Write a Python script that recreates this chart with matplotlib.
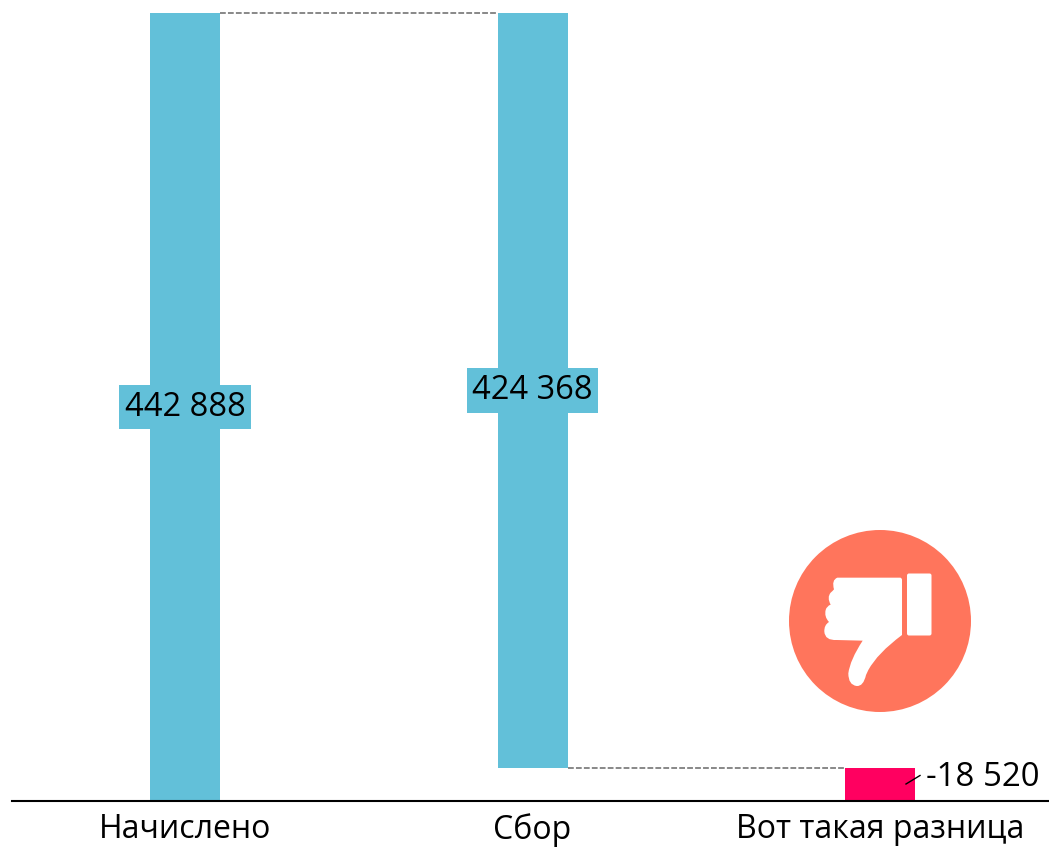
import matplotlib
matplotlib.use('Agg')
import matplotlib.pyplot as plt
from matplotlib.patches import Circle, FancyBboxPatch, PathPatch
from matplotlib.path import Path

categories = ['Начислено', 'Сбор', 'Вот такая разница']
bar_bottoms = [0, 18520, 0]
bar_heights = [442888, 424368, 18520]
bar_labels = ['442 888', '424 368', '-18 520']

BLUE = '#62C0D9'
PINK = '#FF0060'
CORAL = '#FF755C'
W, H = 1049, 850

plt.rcParams['font.family'] = ['Open Sans', 'DejaVu Sans']
fig = plt.figure(figsize=(W / 100, H / 100), dpi=100, facecolor='white')

# оси: базовая линия на y=801, верх столбца на y=13
ax = fig.add_axes([12 / W, (H - 801) / H, (W - 12) / W, 801 / H])
ax.set_xlim((12 - 185) / 347.5, (W - 185) / 347.5)
ax.set_ylim(0, 801 / 788 * bar_heights[0])
width = 70 / 347.5

colors = [BLUE, BLUE, PINK]
ax.bar(range(3), bar_heights, bottom=bar_bottoms, width=width, color=colors, linewidth=0)

# пунктирные соединения
ax.plot([width / 2, 1 - width / 2], [bar_heights[0]] * 2, color='#7f7f7f', lw=1.3, ls=(0, (3.2, 1.2)))
ax.plot([1 + width / 2, 2 - width / 2], [bar_heights[2]] * 2, color='#7f7f7f', lw=1.3, ls=(0, (3.2, 1.2)))

for i in range(2):
    ax.text(i, bar_bottoms[i] + bar_heights[i] / 2, bar_labels[i], ha='center', va='center',
            fontsize=23.5, color='black',
            bbox=dict(facecolor=BLUE, edgecolor='none', boxstyle='square,pad=0.17'))

ax.set_xticks(range(3))
ax.set_xticklabels(categories, fontsize=23, color='black')
ax.tick_params(axis='x', length=0, pad=9)
ax.set_yticks([])
for s in ['top', 'left', 'right']:
    ax.spines[s].set_visible(False)
ax.spines['bottom'].set_linewidth(1.5)
ax.spines['bottom'].set_color('black')

# слой в пикселях: подпись -18 520, выноска и значок
over = fig.add_axes([0, 0, 1, 1])
over.set_xlim(0, W)
over.set_ylim(H, 0)
over.axis('off')
over.patch.set_alpha(0)

over.text(982.5, 777, bar_labels[2], ha='center', va='center', fontsize=23.8, color='black')
over.plot([906, 920], [784, 775.5], color='black', lw=1.0)

over.add_patch(Circle((880, 621), 91, facecolor=CORAL, edgecolor='none'))
over.add_patch(FancyBboxPatch((907, 573.5), 24.5, 62, boxstyle='round,pad=0,rounding_size=2',
                              facecolor='white', edgecolor='none'))


def zp(x, y):
    return (760 + x / 3, 510 + y / 3)


M, L, Q = Path.MOVETO, Path.LINETO, Path.CURVE3
fist = [(232, 203, M), (420, 203, L), (426, 203, Q), (426, 210, Q), (426, 375, L),
        (352, 430, Q), (325, 480, Q), (318, 495, L), (310, 530, Q), (290, 528, Q),
        (265, 525, Q), (265, 490, Q), (270, 450, Q), (308, 392, Q), (230, 390, L),
        (195, 392, Q), (193, 365, Q), (192, 345, Q), (207, 336, Q), (192, 320, Q),
        (197, 300, Q), (200, 288, Q), (212, 284, Q), (200, 262, Q), (212, 248, Q),
        (218, 243, Q), (222, 238, Q), (214, 210, Q), (232, 203, Q)]
verts = [zp(x, y) for x, y, c in fist]
codes = [c for x, y, c in fist]
over.add_patch(PathPatch(Path(verts, codes), facecolor='white', edgecolor='none'))

fig.savefig('out.png', dpi=100)
